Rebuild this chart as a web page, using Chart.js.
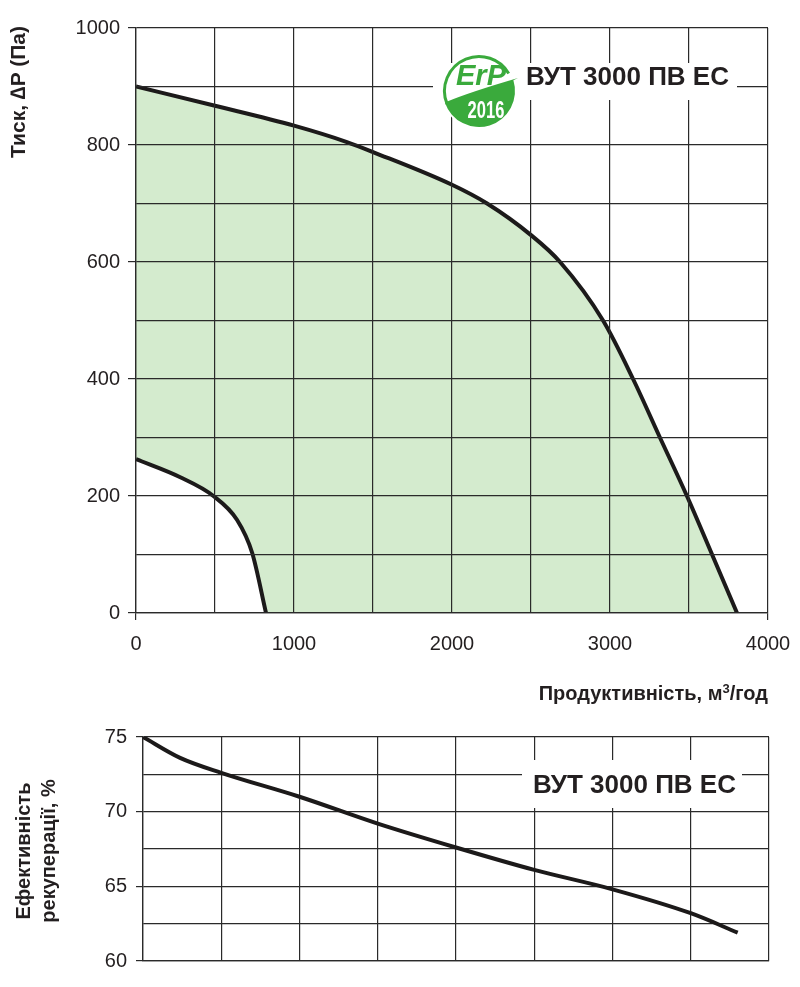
<!DOCTYPE html>
<html>
<head>
<meta charset="utf-8">
<script src="https://cdn.jsdelivr.net/npm/chart.js@4.4.1/dist/chart.umd.min.js"></script>
<style>
    body { margin: 0; background: #fff; font-family: Arial, "Liberation Sans", sans-serif; }
    #page { position: relative; width: 800px; height: 987px; overflow: hidden; }
    canvas { position: absolute; left: 0; }
    .lbl { position: absolute; color: #231f20; font-weight: bold; white-space: nowrap; }
    .rot { transform: rotate(-90deg); text-align: center; }
</style>
</head>
<body>
<div id="page">
    <canvas id="pressure_chart" width="800" height="660" style="top:0"></canvas>
    <canvas id="eff_chart" width="800" height="287" style="top:700px"></canvas>

    <div class="lbl rot" style="left:-82px; top:81px; width:200px; font-size:21px; line-height:22px;">Тиск, ∆P (Па)</div>
    <div class="lbl" style="right:32px; top:677px; font-size:20px; line-height:24px;">Продуктивність, м<sup style="font-size:13px; vertical-align:7px;">3</sup>/год</div>
    <div class="lbl rot" style="left:-64px; top:826px; width:200px; font-size:20px; line-height:25px;">Ефективність<br>рекуперації, %</div>

    <div class="lbl" style="left:526px; top:61px; font-size:26px; line-height:30px;">ВУТ 3000 ПВ ЕС</div>
    <div class="lbl" style="left:533px; top:769px; font-size:26px; line-height:30px;">ВУТ 3000 ПВ ЕС</div>
</div>
<script>
// pressure curve (max speed), m3/h -> Pa
var mainFlow = [0, 500, 1000, 1335, 1500, 2000, 2222, 2500, 2684, 2956, 3146, 3316, 3487, 3646, 3804];
var mainPressure = [900, 867, 833, 805, 788, 732, 700, 646, 600, 500, 400, 300, 200, 100, 0];

// pressure curve (min speed)
var minFlow = [0, 280, 490, 640, 735, 823];
var minPressure = [263, 232, 200, 159, 103, 0];

// heat recovery efficiency, %
var effFlow = [0, 237, 500, 1000, 1500, 2000, 2500, 3000, 3500, 3800];
var effValue = [75, 73.6, 72.6, 71.0, 69.2, 67.6, 66.1, 64.8, 63.2, 61.9];

var pressureTicks = [0, 200, 400, 600, 800, 1000];
var flowTicks = [0, 1000, 2000, 3000, 4000];
var effTicks = [60, 65, 70, 75];

var gridColor = '#2a2a2a';
var lineColor = '#1c1a1a';
var fillGreen = 'rgb(212,235,206)';
var logoGreen = '#3aaa3c';
var tickFont = { family: 'Arial, "Liberation Sans", sans-serif', size: 20 };

function toPoints(xs, ys) {
    return xs.map(function(x, i) { return { x: x, y: ys[i] }; });
}

// white label box + ErP logo on the pressure chart
var erpPlugin = {
    id: 'erp',
    afterDraw: function(chart) {
        var c = chart.ctx;
        c.save();
        c.fillStyle = '#fff';
        c.fillRect(433, 63, 304, 37);

        var cx = 479, cy = 91, r = 36;
        c.beginPath();
        c.arc(cx, cy, r + 2, 0, Math.PI * 2);
        c.fill();

        // outline arc on the left / top
        c.strokeStyle = logoGreen;
        c.lineWidth = 3;
        c.beginPath();
        c.arc(cx, cy, r - 1.5, 2.75, 5.75);
        c.stroke();

        // leaf
        c.fillStyle = logoGreen;
        c.beginPath();
        c.moveTo(446, 102);
        c.quadraticCurveTo(470, 92, 518, 78);
        c.arc(cx, cy, r, -0.3, 2.81, false);
        c.closePath();
        c.fill();

        c.textAlign = 'center';
        c.textBaseline = 'middle';
        c.font = 'italic bold 29px Arial, "Liberation Sans", sans-serif';
        c.fillText('ErP', 481, 77);

        // condensed "2016"
        c.fillStyle = '#fff';
        c.font = 'bold 23px Arial, "Liberation Sans", sans-serif';
        c.translate(486, 112);
        c.scale(0.72, 1);
        c.fillText('2016', 0, 0);
        c.restore();
    }
};

var effBoxPlugin = {
    id: 'effbox',
    afterDraw: function(chart) {
        var c = chart.ctx;
        c.save();
        c.fillStyle = '#fff';
        c.fillRect(522, 60, 220, 48);
        c.restore();
    }
};

// Pressure chart

var pressureData = {
    datasets: [
        {
            label: 'max',
            data: toPoints(mainFlow, mainPressure),
            borderColor: lineColor,
            borderWidth: 4,
            backgroundColor: fillGreen,
            fill: 'origin',
            pointRadius: 0,
            cubicInterpolationMode: 'monotone',
            order: 2
        },
        {
            label: 'min',
            data: toPoints(minFlow, minPressure),
            borderColor: lineColor,
            borderWidth: 4,
            backgroundColor: '#fff',
            fill: 'origin',
            pointRadius: 0,
            cubicInterpolationMode: 'monotone',
            order: 1
        }
    ]
};

var pressureOptions = {
    responsive: false,
    animation: false,
    layout: { padding: { top: 28, right: 32, left: 0, bottom: 0 } },
    plugins: { legend: { display: false }, tooltip: { enabled: false } },
    scales: {
        x: {
            type: 'linear', min: 0, max: 4000,
            afterFit: function(s) {
                s.height = 47;
                // keep the plot edge at x=768, the "4000" label fits in the margin
                s.paddingLeft = 0;
                s.paddingRight = 0;
            },
            border: { color: gridColor, width: 1.3, z: 1 },
            grid: {
                z: 1, color: gridColor, lineWidth: 1.2, tickLength: 7,
                tickColor: function(ctx) {
                    var v = ctx.tick ? ctx.tick.value : -1;
                    return (v === 0 || v === 4000) ? gridColor : 'rgba(0,0,0,0)';
                }
            },
            ticks: {
                stepSize: 500, padding: 12, color: '#231f20', font: tickFont, maxRotation: 0,
                callback: function(v) { return flowTicks.indexOf(v) >= 0 ? String(v) : ''; }
            }
        },
        y: {
            min: 0, max: 1000,
            afterFit: function(s) { s.width = 136; },
            border: { color: gridColor, width: 1.3, z: 1 },
            grid: {
                z: 1, color: gridColor, lineWidth: 1.2, tickLength: 8,
                tickColor: function(ctx) {
                    var v = ctx.tick ? ctx.tick.value : -1;
                    return pressureTicks.indexOf(v) >= 0 ? gridColor : 'rgba(0,0,0,0)';
                }
            },
            ticks: {
                stepSize: 100, padding: 8, color: '#231f20', font: tickFont,
                callback: function(v) { return pressureTicks.indexOf(v) >= 0 ? String(v) : ''; }
            }
        }
    }
};

var ctx = document.getElementById('pressure_chart').getContext('2d');
new Chart(ctx, { type: 'line', data: pressureData, options: pressureOptions, plugins: [erpPlugin] });

// Efficiency chart

var effData = {
    datasets: [{
        label: 'eff',
        data: toPoints(effFlow, effValue),
        borderColor: lineColor,
        borderWidth: 4,
        fill: false,
        pointRadius: 0,
        cubicInterpolationMode: 'monotone'
    }]
};

var effOptions = {
    responsive: false,
    animation: false,
    layout: { padding: { top: 37, right: 31, left: 0, bottom: 0 } },
    plugins: { legend: { display: false }, tooltip: { enabled: false } },
    scales: {
        x: {
            type: 'linear', min: 0, max: 4000,
            afterFit: function(s) { s.height = 26; },
            border: { color: gridColor, width: 1.3 },
            grid: { color: gridColor, lineWidth: 1.2, drawTicks: false },
            ticks: { stepSize: 500, display: false }
        },
        y: {
            min: 60, max: 75,
            afterFit: function(s) { s.width = 143; },
            border: { color: gridColor, width: 1.3 },
            grid: {
                color: gridColor, lineWidth: 1.2, tickLength: 7,
                tickColor: function(ctx) {
                    var v = ctx.tick ? ctx.tick.value : -1;
                    return effTicks.indexOf(v) >= 0 ? gridColor : 'rgba(0,0,0,0)';
                }
            },
            ticks: {
                stepSize: 2.5, padding: 9, color: '#231f20', font: tickFont,
                callback: function(v) { return effTicks.indexOf(v) >= 0 ? String(v) : ''; }
            }
        }
    }
};

var ctx2 = document.getElementById('eff_chart').getContext('2d');
new Chart(ctx2, { type: 'line', data: effData, options: effOptions, plugins: [effBoxPlugin] });
</script>
</body>
</html>
